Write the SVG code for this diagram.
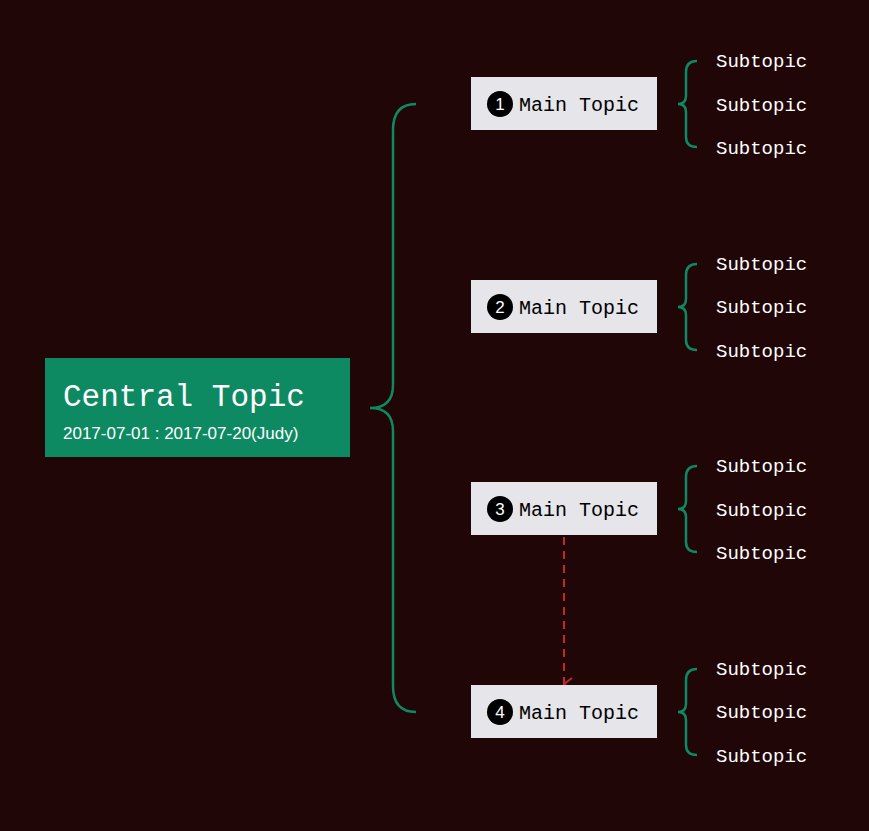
<svg xmlns="http://www.w3.org/2000/svg" width="869" height="831" viewBox="0 0 869 831">
<style>
.mt rect{fill:#e6e5ea}
.mt circle{fill:#000}
.num{font-family:"Liberation Sans",sans-serif;font-size:17px;fill:#fff;text-anchor:middle}
.mtt{font-family:"Liberation Mono",monospace;font-size:20px;fill:#000}
.sub{font-family:"Liberation Mono",monospace;font-size:19px;fill:#fff}
.br{fill:none;stroke:#0e8a63;stroke-width:2.5}
</style>
<defs><marker id="ar" markerWidth="14" markerHeight="14" refX="7" refY="12" orient="auto" markerUnits="userSpaceOnUse" viewBox="0 0 14 14"><path d="M1,4 L7,12 L13,4" fill="none" stroke="#c0282a" stroke-width="2"/></marker></defs>
<rect width="869" height="831" fill="#200607"/>
<g id="connectors">
<path class="br" d="M416,104 Q393,104 393,130 L393,385 Q393,408 370,408 Q393,408 393,431 L393,686 Q393,712 416,712"/>
<path class="br" d="M697,61 Q686,61 686,72 L686,96 Q686,104 678,104 Q686,104 686,112 L686,137 Q686,147 697,147"/>
<path class="br" d="M697,264 Q686,264 686,275 L686,299 Q686,307 678,307 Q686,307 686,315 L686,340 Q686,350 697,350"/>
<path class="br" d="M697,466 Q686,466 686,477 L686,501 Q686,509 678,509 Q686,509 686,517 L686,542 Q686,552 697,552"/>
<path class="br" d="M697,669 Q686,669 686,680 L686,704 Q686,712 678,712 Q686,712 686,720 L686,745 Q686,755 697,755"/>
<path d="M564,537 L564,684" stroke="#c0282a" stroke-width="2" stroke-dasharray="8,6" fill="none" marker-end="url(#ar)"/>
</g>
<g id="central">
<rect x="45" y="358" width="305" height="99" fill="#0e8a63"/>
<text x="63" y="406" font-family="Liberation Mono,monospace" font-size="31" fill="#fff">Central Topic</text>
<text x="63" y="439" font-family="Liberation Sans,sans-serif" font-size="17" fill="#fff">2017-07-01 : 2017-07-20(Judy)</text>
</g>
<g id="main1" class="mt"><rect x="471" y="77" width="186" height="53"/><circle cx="500" cy="104" r="13"/><text class="num" x="500" y="110">1</text><text class="mtt" x="519" y="111">Main Topic</text></g>
<g id="main2" class="mt"><rect x="471" y="280" width="186" height="53"/><circle cx="500" cy="307" r="13"/><text class="num" x="500" y="313">2</text><text class="mtt" x="519" y="314">Main Topic</text></g>
<g id="main3" class="mt"><rect x="471" y="482" width="186" height="53"/><circle cx="500" cy="509" r="13"/><text class="num" x="500" y="515">3</text><text class="mtt" x="519" y="516">Main Topic</text></g>
<g id="main4" class="mt"><rect x="471" y="685" width="186" height="53"/><circle cx="500" cy="712" r="13"/><text class="num" x="500" y="718">4</text><text class="mtt" x="519" y="719">Main Topic</text></g>
<g id="subs">
<text class="sub" x="716" y="67">Subtopic</text><text class="sub" x="716" y="111">Subtopic</text><text class="sub" x="716" y="154">Subtopic</text>
<text class="sub" x="716" y="270">Subtopic</text><text class="sub" x="716" y="313">Subtopic</text><text class="sub" x="716" y="357">Subtopic</text>
<text class="sub" x="716" y="472">Subtopic</text><text class="sub" x="716" y="516">Subtopic</text><text class="sub" x="716" y="559">Subtopic</text>
<text class="sub" x="716" y="675">Subtopic</text><text class="sub" x="716" y="718">Subtopic</text><text class="sub" x="716" y="762">Subtopic</text>
</g>
</svg>
